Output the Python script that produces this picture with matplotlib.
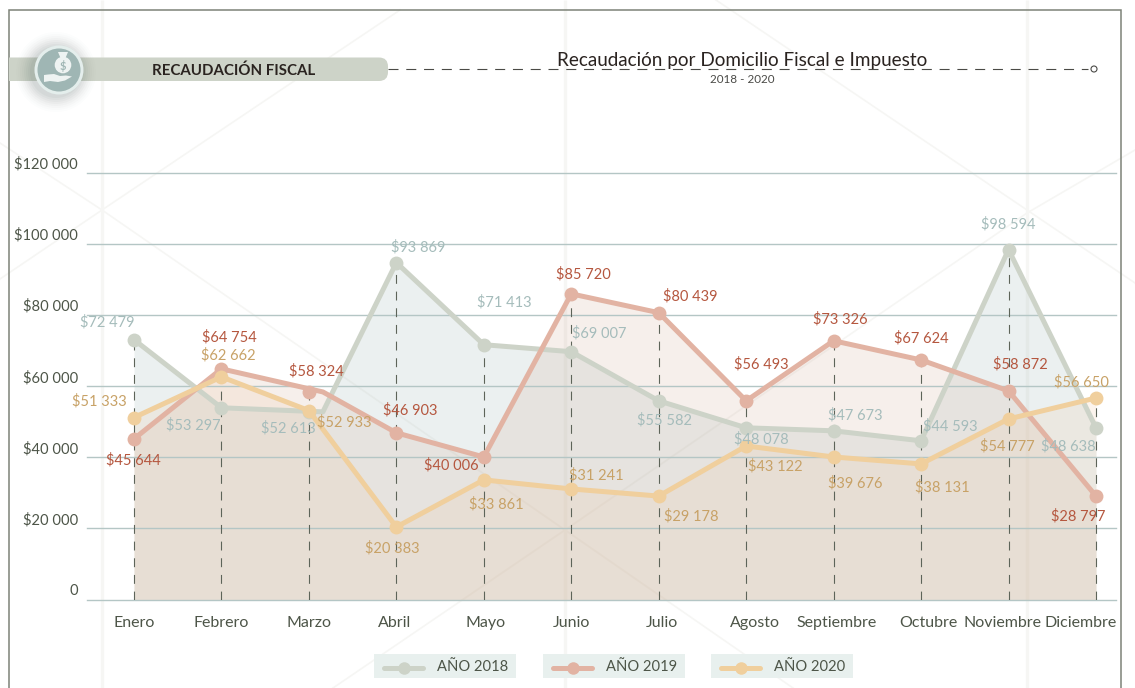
import numpy as np
import matplotlib
matplotlib.use("Agg")
import matplotlib.pyplot as plt
from matplotlib.patches import Rectangle, Circle, FancyBboxPatch, Polygon, Ellipse
from matplotlib.lines import Line2D
from matplotlib.transforms import ScaledTranslation

plt.rcParams['font.family'] = ['Lato', 'DejaVu Sans']

# ---------- data ----------
months = ["Enero", "Febrero", "Marzo", "Abril", "Mayo", "Junio", "Julio", "Agosto",
          "Septiembre", "Octubre", "Noviembre", "Diciembre"]
series_names = ["AÑO 2018", "AÑO 2019", "AÑO 2020"]
y2018 = [73100, 53940, 52800, 94790, 71690, 69720, 55900, 48310, 47460, 44650, 98450, 48310]
y2019 = [45200, 64900, 58400, 46900, 40100, 86000, 80700, 55900, 72800, 67400, 58700, 29100]
y2020 = [51200, 62640, 53150, 20400, 33650, 31100, 29100, 43200, 40100, 38150, 50800, 56700]
lab2018 = ["$72 479", "$53 297", "$52 613", "$93 869", "$71 413", "$69 007",
           "$55 582", "$48 078", "$47 673", "$44 593", "$98 594", "$48 638"]
lab2019 = ["$45 644", "$64 754", "$58 324", "$46 903", "$40 006", "$85 720",
           "$80 439", "$56 493", "$73 326", "$67 624", "$58 872", "$28 797"]
lab2020 = ["$51 333", "$62 662", "$52 933", "$20 383", "$33 861", "$31 241",
           "$29 178", "$43 122", "$39 676", "$38 131", "$54 777", "$56 650"]
y_ticks = [0, 20000, 40000, 60000, 80000, 100000, 120000]
y_tick_labels = ["0", "$20 000", "$40 000", "$60 000", "$80 000", "$100 000", "$120 000"]

# ---------- label placement (pixels from each marker: right, up) ----------
off2018 = [(-27, 17), (-28, -17), (-21, -16), (22, 15), (20, 42), (28, 18),
           (6, -19), (15, -11), (22, 16), (29, 15), (0, 25), (-28, -18)]
off2019 = [(-1, -21), (8, 32), (7, 21), (14, 23), (-33, -8), (12, 20),
           (32, 16), (15, 37), (7, 22), (0, 22), (12, 27), (-18, -20)]
off2020 = [(-35, 16), (7, 22), (35, -12), (-4, -21), (12, -24), (25, 14),
           (33, -20), (29, -20), (22, -26), (21, -23), (-1, -27), (-15, 16)]
xlab_shift = [0, 0, 0, -2, 2, 0, 3, 9, 3, 7, -6, -15]

W, H = 1135, 688
fig = plt.figure(figsize=(W / 100, H / 100), dpi=100, facecolor='white')

# ---------- background overlay in pixel coordinates ----------
bg = fig.add_axes([0, 0, 1, 1], zorder=0)
bg.set_xlim(0, W)
bg.set_ylim(H, 0)
bg.axis('off')

wm = '#f6f6f4'
for vx in (102, 565, 1027):
    bg.plot([vx, vx], [0, H], color=wm, lw=2.4, zorder=1, solid_capstyle='butt')
for seg in ([(400, 10), (102, 210), (0, 279)],
            [(0, 143), (102, 210), (565, 530), (793, 688)],
            [(716, 0), (1027, 210), (1135, 283)],
            [(1135, 150), (1027, 213), (565, 530), (333, 688)]):
    xs, ys = zip(*seg)
    bg.plot(xs, ys, color=wm, lw=1.2, zorder=1)

frame = '#7d8378'
bg.plot([9, 9, 1121, 1121], [H, 10, 10, H], color=frame, lw=1.1, zorder=2, solid_joinstyle='miter')

# header pill
clip = Rectangle((9, 0), 1100, H, transform=bg.transData)
pill = FancyBboxPatch((-30, 57.5), 418, 23.5, boxstyle="round,pad=0,rounding_size=9",
                      fc='#cdd3c8', ec='none', zorder=3)
bg.add_patch(pill)
pill.set_clip_path(clip)
bg.text(233.5, 70.5, "RECAUDACIÓN FISCAL", ha='center', va='center', fontsize=10.8,
        fontweight='bold', color='#2a2320', zorder=4)

# icon with shadow
for r, a in zip(np.arange(40, 24, -2), np.linspace(0.012, 0.05, 8)):
    bg.add_patch(Circle((56, 72), r, fc='#50605c', ec='none', alpha=a, zorder=4))
bg.add_patch(Ellipse((59, 70), 49, 49, fc='#e4eeec', ec='none', zorder=5))
bg.add_patch(Ellipse((59, 70), 43, 43, fc='#9fb6b4', ec='none', zorder=6))
bg.add_patch(Circle((63, 65), 8.3, fc='#eef3f2', ec='none', zorder=7))
bg.add_patch(Polygon([(58, 52), (68, 52), (65.5, 58), (60.5, 58)], fc='#eef3f2', ec='none', zorder=7))
bg.text(63, 65.5, "$", ha='center', va='center', fontsize=8, fontweight='bold', color='#9fb6b4', zorder=8)
bg.add_patch(Polygon([(44, 75), (48, 74.5), (54, 74), (60, 76), (66, 75.5), (72, 76.5),
                      (65, 80.5), (58, 82), (50, 81), (44, 82)], fc='#eef3f2', ec='none', zorder=7))

# title with dashed rule
bg.plot([388, 1088], [69, 69], color='#4a4a46', lw=0.8, dashes=(9, 7), zorder=3)
bg.add_patch(Circle((1094, 69), 3, fc='white', ec='#4a4a46', lw=0.8, zorder=3))
bg.text(742.5, 60.5, "Recaudación por Domicilio Fiscal e Impuesto", ha='center', va='center',
        fontsize=13.6, color='#2a2320', zorder=4)
bg.text(742.5, 79.5, "2018 - 2020", ha='center', va='center', fontsize=8.4, color='#4a4a46', zorder=4)

# ---------- main chart ----------
left, right, top, bottom = 87.0, 1115.5, 173.0, 599.5
ax = fig.add_axes([left / W, 1 - bottom / H, (right - left) / W, (bottom - top) / H], zorder=1)
ax.patch.set_alpha(0)
x0, step = 134.0, (1096 - 134) / 11
ax.set_xlim((left - x0) / step, (right - x0) / step)
ax.set_ylim(0, 120000)
for s in ax.spines.values():
    s.set_visible(False)

xpos = np.arange(len(months), dtype=float)
# the 2018 and 2019 lines bend a little to the right of the Marzo marker
xline = xpos.copy()
xline[2] = 2.16

line_c = ['#cdd3c8', '#e2b3a3', '#f0cf9d']
fill_c = [(157 / 255, 181 / 255, 181 / 255), (210 / 255, 175 / 255, 155 / 255), (240 / 255, 202 / 255, 168 / 255)]
text_c = ['#a5bcbb', '#b5573f', '#c8a267']
tick_c = '#4d5548'

series = [y2018, y2019, y2020]
labels = [lab2018, lab2019, lab2020]
offsets = [off2018, off2019, off2020]
line_x = [xline, xline, xpos]

for i, vals in enumerate(series):
    ax.fill_between(line_x[i], 0, vals, color=fill_c[i], alpha=0.2, lw=0, zorder=2)

ax.set_yticks(y_ticks)
ax.set_yticklabels(y_tick_labels)
ax.grid(axis='y', color='#b4c6c5', lw=1.0, zorder=3, clip_on=False)
ax.set_axisbelow(False)
ax.tick_params(axis='y', length=0, pad=6.5, labelsize=10.6, labelcolor=tick_c)
for lb in ax.get_yticklabels():
    lb.set_transform(lb.get_transform() + ScaledTranslation(0, 10 / 100, fig.dpi_scale_trans))

ax.set_xticks(xpos)
ax.set_xticklabels(months)
ax.tick_params(axis='x', length=0, pad=12, labelsize=11.5, labelcolor=tick_c)
for lb, sh in zip(ax.get_xticklabels(), xlab_shift):
    lb.set_transform(lb.get_transform() + ScaledTranslation(sh / 100, 0, fig.dpi_scale_trans))

tops = np.max(np.array(series), axis=0)
ax.vlines(xpos, 0, tops, color='#5d6459', lw=0.8, linestyles=(0, (8, 7)), zorder=3.5)

for i, vals in enumerate(series):
    ax.plot(line_x[i], vals, color=line_c[i], lw=3.6, zorder=4 + i, solid_joinstyle='round')
    ax.plot(xpos, vals, ls='none', marker='o', ms=10, mfc=line_c[i], mec='none', zorder=4 + i)

for i, vals in enumerate(series):
    for x, v, t, (dx, dy) in zip(xpos, vals, labels[i], offsets[i]):
        ax.annotate(t, (x, v), xytext=(dx, dy), textcoords='offset pixels', ha='center', va='center',
                    fontsize=10.5, color=text_c[i], zorder=8, annotation_clip=False)

# ---------- legend boxes ----------
leg = fig.add_axes([0, 0, 1, 1], zorder=2)
leg.set_xlim(0, W)
leg.set_ylim(H, 0)
leg.axis('off')
for bx, name, c in zip((374, 543, 711), series_names, line_c):
    leg.add_patch(Rectangle((bx, 654), 142, 24, fc='#e8f0ee', ec='none'))
    leg.add_line(Line2D([bx + 10, bx + 49], [668, 668], color=c, lw=3.6, solid_capstyle='round'))
    leg.add_line(Line2D([bx + 29.5], [668], ls='none', marker='o', ms=9, mfc=c, mec='none'))
    leg.text(bx + 63, 667, name, ha='left', va='center', fontsize=10.6, color=tick_c)

fig.savefig('out.png', dpi=100, facecolor='white')
